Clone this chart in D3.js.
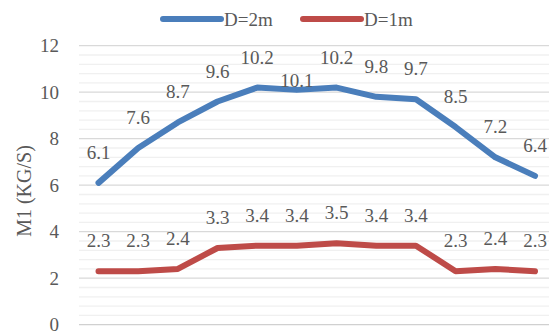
<!DOCTYPE html>
<html lang="en">
<head>
<meta charset="utf-8">
<title>M1 vs D</title>
<style>
  body { margin: 0; background: #fff; }
</style>
</head>
<body>
<svg id="chart" width="549" height="334"></svg>
<script src="https://d3js.org/d3.v7.min.js"></script>
<script>
// chart values
const points = d3.range(1, 13);           // 12 measurement points, no x labels shown
const seriesNames = ["D=2m", "D=1m"];
const d2m = [6.1, 7.6, 8.7, 9.6, 10.2, 10.1, 10.2, 9.8, 9.7, 8.5, 7.2, 6.4];
const d1m = [2.3, 2.3, 2.4, 3.3, 3.4, 3.4, 3.5, 3.4, 3.4, 2.3, 2.4, 2.3];
const yTicks = [0, 2, 4, 6, 8, 10, 12];
const yTitle = "M1 (KG/S)";

const colors = { "D=2m": "#4a7ebb", "D=1m": "#be4b48" };
const textColor = "#595959";
const fontSize = 19;
const font = "'Liberation Serif', 'DejaVu Serif', 'Times New Roman', serif";

const svg = d3.select("#chart");
const W = 549;

const x = d3.scalePoint().domain(points).range([98.5, 535]);
const y = d3.scaleLinear().domain([0, 12]).range([324.7, 45.7]);
const gridLeft = 79;

// minor gridlines
const minor = d3.range(0, 12.001, 0.4).filter(v => Math.abs(v / 2 - Math.round(v / 2)) > 1e-6);
svg.append("g").selectAll("line").data(minor).join("line")
  .attr("x1", gridLeft).attr("x2", W)
  .attr("y1", d => y(d)).attr("y2", d => y(d))
  .attr("stroke", "#f0f0f0").attr("stroke-width", 1.3);

// major gridlines
svg.append("g").selectAll("line").data(yTicks).join("line")
  .attr("x1", gridLeft).attr("x2", W)
  .attr("y1", d => y(d)).attr("y2", d => y(d))
  .attr("stroke", d => d === 0 ? "#d0d0d0" : "#d9d9d9").attr("stroke-width", 1.3);

// y tick labels
svg.append("g").selectAll("text").data(yTicks).join("text")
  .attr("x", 59).attr("y", d => y(d) + 6.5)
  .attr("text-anchor", "end")
  .attr("font-family", font)
  .attr("font-size", fontSize).attr("fill", textColor)
  .text(d => d);

// y title
svg.append("text")
  .attr("transform", "translate(31,191) rotate(-90)")
  .attr("text-anchor", "middle")
  .attr("font-family", font)
  .attr("font-size", 20).attr("fill", textColor)
  .text(yTitle);

const series = [
  { name: "D=2m", values: d2m },
  { name: "D=1m", values: d1m }
];

const line = d3.line().x((d, i) => x(points[i])).y(d => y(d));

svg.append("g").selectAll("path").data(series).join("path")
  .attr("d", s => line(s.values))
  .attr("fill", "none")
  .attr("stroke", s => colors[s.name])
  .attr("stroke-width", 6)
  .attr("stroke-linejoin", "round")
  .attr("stroke-linecap", "round");

// data labels (one label sits lower in the original)
const labelNudge = { "D=2m-5": 21 };
series.forEach(s => {
  svg.append("g").selectAll("text").data(s.values).join("text")
    .attr("x", (d, i) => x(points[i]))
    .attr("y", (d, i) => y(d) - 24 + (labelNudge[s.name + "-" + i] || 0))
    .attr("text-anchor", "middle")
    .attr("font-family", font)
    .attr("font-size", fontSize).attr("fill", textColor)
    .text(d => d.toFixed(1));
});

// legend
const legendX = [163, 303];
const legend = svg.append("g").selectAll("g").data(seriesNames).join("g")
  .attr("transform", (d, i) => `translate(${legendX[i]},19)`);
legend.append("line")
  .attr("x1", 0).attr("x2", 58).attr("y1", 0).attr("y2", 0)
  .attr("stroke", d => colors[d]).attr("stroke-width", 6)
  .attr("stroke-linecap", "round");
legend.append("text")
  .attr("x", 61).attr("y", 7)
  .attr("font-family", font)
  .attr("font-size", fontSize).attr("fill", textColor)
  .text(d => d);
</script>
</body>
</html>
